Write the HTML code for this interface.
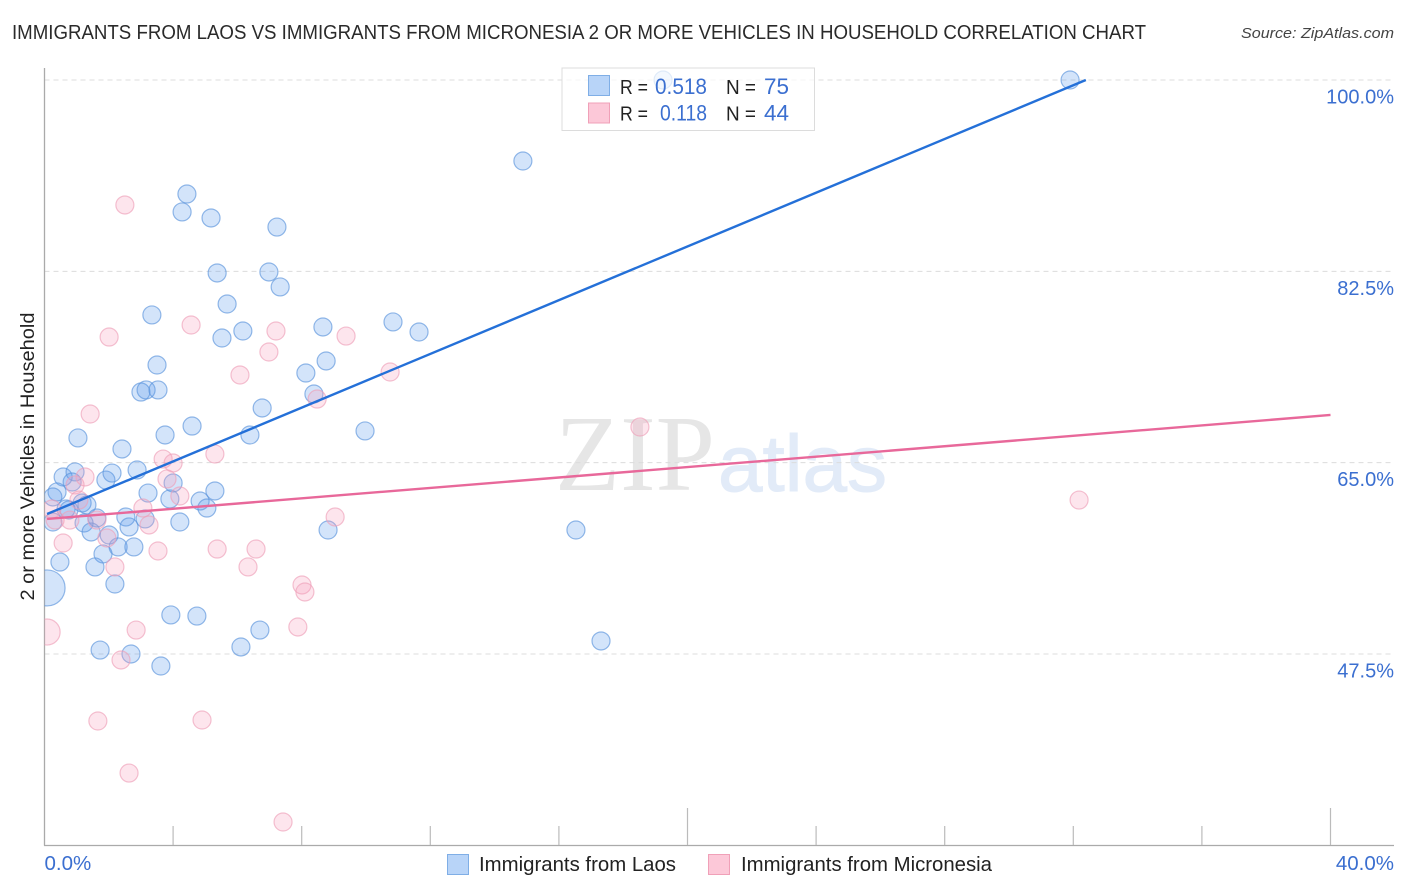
<!DOCTYPE html>
<html>
<head>
<meta charset="utf-8">
<title>Immigrants from Laos vs Immigrants from Micronesia correlation chart</title>
<style>
html,body{margin:0;padding:0;background:#fff;}
svg{display:block;font-family:"Liberation Sans",sans-serif;}
</style>
</head>
<body>
<svg id="chart" xmlns="http://www.w3.org/2000/svg" width="1406" height="892" viewBox="0 0 1406 892">
  <defs>
    <clipPath id="plot-clip"><rect x="44.5" y="60" width="1350" height="785"></rect></clipPath>
  </defs>
  <text x="12" y="39" font-size="20" fill="#2a2a2a" textLength="1134" lengthAdjust="spacingAndGlyphs">IMMIGRANTS FROM LAOS VS IMMIGRANTS FROM MICRONESIA 2 OR MORE VEHICLES IN HOUSEHOLD CORRELATION CHART</text>
  <text x="1394" y="38" font-size="15" font-style="italic" fill="#444" text-anchor="end" textLength="153" lengthAdjust="spacingAndGlyphs">Source: ZipAtlas.com</text>
  <g>
    <text x="555" y="490" font-family="'Liberation Serif',serif" font-size="108" fill="#e6e6e6" textLength="160" lengthAdjust="spacingAndGlyphs">ZIP</text>
    <text x="718" y="491" font-family="'Liberation Sans',sans-serif" font-size="80" fill="#e2ebf8" stroke="#e2ebf8" stroke-width="1" textLength="169" lengthAdjust="spacingAndGlyphs">atlas</text>
  </g>
  <g id="grid"></g>
  <g id="axes"></g>
  <g id="blue-points" clip-path="url(#plot-clip)"></g>
  <g id="pink-points" clip-path="url(#plot-clip)"></g>
  <g id="trends"></g>
  <g id="y-labels"></g>
  <g id="x-labels"></g>
  <text transform="translate(34,456.5) rotate(-90)" font-size="19" fill="#222" text-anchor="middle" textLength="288" lengthAdjust="spacingAndGlyphs">2 or more Vehicles in Household</text>

  <g>
    <rect x="562" y="68" width="252.5" height="62.5" fill="#fff" fill-opacity="0.72" stroke="#dcdcdc" stroke-width="1"></rect>
    <rect x="588.5" y="75.5" width="21" height="20" fill="#b8d4f8" stroke="#7faee6"></rect>
    <rect x="588.5" y="103" width="21" height="20" fill="#fcc8d8" stroke="#f0a0b8"></rect>
    <g font-size="20" fill="#222">
      <text x="620" y="94" textLength="28" lengthAdjust="spacingAndGlyphs">R =</text>
      <text x="620" y="120.5" textLength="28" lengthAdjust="spacingAndGlyphs">R =</text>
      <text x="726" y="94" textLength="30" lengthAdjust="spacingAndGlyphs">N =</text>
      <text x="726" y="120.5" textLength="30" lengthAdjust="spacingAndGlyphs">N =</text>
    </g>
    <g font-size="22" fill="#3b6fd0">
      <text x="655" y="94" textLength="52" lengthAdjust="spacingAndGlyphs">0.518</text>
      <text x="660" y="120.5" textLength="47" lengthAdjust="spacingAndGlyphs">0.118</text>
      <text x="764" y="94" textLength="25" lengthAdjust="spacingAndGlyphs">75</text>
      <text x="764" y="120.5" textLength="25" lengthAdjust="spacingAndGlyphs">44</text>
    </g>
  </g>

  <g>
    <rect x="447.5" y="854.5" width="21" height="20" fill="#b8d4f8" stroke="#7faee6"></rect>
    <text x="479" y="871" font-size="20" fill="#222" textLength="197" lengthAdjust="spacingAndGlyphs">Immigrants from Laos</text>
    <rect x="708.5" y="854.5" width="21" height="20" fill="#fcc8d8" stroke="#f0a0b8"></rect>
    <text x="741" y="871" font-size="20" fill="#222" textLength="251" lengthAdjust="spacingAndGlyphs">Immigrants from Micronesia</text>
  </g>
</svg>
<script>
const blueX = [31.90,14.88,4.43,4.28,5.18,7.23,5.37,6.98,7.33,5.68,3.34,10.84,8.66,11.65,6.17,5.52,3.50,8.76,8.13,3.00,3.16,3.53,8.38,6.77,4.59,3.75,6.39,9.97,1.04,2.41,0.58,0.95,0.86,1.91,2.10,2.88,0.39,0.26,3.22,1.17,1.32,0.67,0.76,1.63,0.26,1.23,1.45,2.53,2.63,3.13,2.01,2.29,2.78,1.82,1.57,0.48,2.19,0.08,3.93,4.74,6.11,6.70,4.00,3.90,4.84,5.05,5.30,4.21,8.82,16.53,17.31,1.73,2.69,3.62,19.24];
const blueY = [100,92.59,89.57,87.93,87.38,86.55,82.35,82.44,81.07,79.51,78.51,77.87,77.41,76.95,77.04,76.40,73.93,74.30,73.20,71.46,71.65,71.65,71.28,70.00,68.35,67.53,67.53,67.90,67.26,66.25,63.69,64.15,63.23,63.41,64.05,64.33,62.32,61.86,62.22,61.31,61.13,60.76,60.67,59.94,59.57,59.48,58.66,60.03,59.12,59.85,58.38,57.29,57.29,56.65,55.46,55.91,53.90,53.54,51.07,50.97,48.14,49.69,63.14,61.68,61.49,60.85,62.41,59.57,58.84,58.84,48.69,47.86,47.50,46.40,100];
const blueWeight = [1,1,1,1,1,1,1,1,1,1,1,1,1,1,1,1,1,1,1,1,1,1,1,1,1,1,1,1,1,1,1,1,1,1,1,1,1,1,1,1,1,1,1,1,1,1,1,1,1,1,1,1,1,1,1,1,1,4,1,1,1,1,1,1,1,1,1,1,1,1,1,1,1,1,1];
const pinkX = [2.50,2.01,4.56,7.20,9.38,6.98,6.08,10.75,8.48,1.42,18.52,5.30,3.69,4.00,1.26,0.95,3.81,4.21,1.07,32.18,3.06,0.23,9.04,0.33,0.79,1.63,3.25,1.94,0.58,3.53,5.37,6.58,6.33,2.19,8.01,8.10,7.88,2.85,0.08,2.38,1.66,4.90,2.63,7.42];
const pinkY = [88.57,76.49,77.59,77.04,76.58,75.12,73.02,73.29,70.82,69.45,68.26,65.79,65.33,64.97,63.69,62.96,63.51,61.95,61.58,61.58,60.85,60.76,60.03,59.75,59.75,59.75,59.30,58.11,57.65,56.92,57.10,57.10,55.46,55.46,53.81,53.17,49.97,49.69,49.51,46.95,41.37,41.46,36.61,32.13];
const pinkWeight = [1,1,1,1,1,1,1,1,1,1,1,1,1,1,1,1,1,1,1,1,1,1,1,1,1,1,1,1,1,1,1,1,1,1,1,1,1,1,2.1,1,1,1,1,1];
const blueTrendX = [0.08,32.39];
const blueTrendY = [60.3,100];
const pinkTrendX = [0.08,40];
const pinkTrendY = [59.85,69.36];
const yTicks = [100,82.5,65,47.5];
const yTickLabels = ["100.0%","82.5%","65.0%","47.5%"];
const xTickValues = [4,8,12,16,20,24,28,32,36,40];
const xMajorTicks = [20,40];
const xEndTicks = [0,40];
const xEndLabels = ["0.0%","40.0%"];

const NS = "http://www.w3.org/2000/svg";
function xScale(v){ return 44.5 + v * 32.15; }
function yScale(v){ return 80 + (100 - v) * 10.933; }
function mk(parent, tag, attrs){
  const el = document.createElementNS(NS, tag);
  for (const k in attrs) el.setAttribute(k, attrs[k]);
  document.getElementById(parent).appendChild(el);
  return el;
}

yTicks.forEach(function(t){
  const g = mk("grid", "line", {x1:44.5, x2:1394, y1:yScale(t), y2:yScale(t), stroke:"#dcdcdc", "stroke-width":1, "stroke-dasharray":"5 4"});
  
  
});

const yAxis = mk("axes", "line", {x1:44.5, x2:44.5, y1:68, y2:845.5, stroke:"#aaa", "stroke-width":1.3});


const xAxis = mk("axes", "line", {x1:44, x2:1394, y1:845.5, y2:845.5, stroke:"#aaa", "stroke-width":1.3});


xTickValues.forEach(function(t){
  const top = xMajorTicks.indexOf(t) >= 0 ? 808 : 826;
  const tick = mk("axes", "line", {x1:xScale(t), x2:xScale(t), y1:top, y2:845, stroke:"#bbb", "stroke-width":1.2});
  
  
});

function drawPoints(group, xs, ys, ws, fill, stroke, name){
  xs.forEach(function(v, i){
    const c = mk(group, "circle", {cx:xScale(v), cy:yScale(ys[i]), r:9 * Math.sqrt(ws[i]), fill:fill, "fill-opacity":0.27, stroke:stroke, "stroke-opacity":0.65, "stroke-width":1.2});
    
    
  });
}
drawPoints("blue-points", blueX, blueY, blueWeight, "#5b9bec", "#5b93dc", "laos-point");
drawPoints("pink-points", pinkX, pinkY, pinkWeight, "#f6a0bc", "#eea0b8", "micronesia-point");

const blueLine = mk("trends", "line", {x1:xScale(blueTrendX[0]), y1:yScale(blueTrendY[0]), x2:xScale(blueTrendX[1]), y2:yScale(blueTrendY[1]), stroke:"#2470d8", "stroke-width":2.4});


const pinkLine = mk("trends", "line", {x1:xScale(pinkTrendX[0]), y1:yScale(pinkTrendY[0]), x2:xScale(pinkTrendX[1]), y2:yScale(pinkTrendY[1]), stroke:"#e8689a", "stroke-width":2.4});



yTicks.forEach(function(t, i){
  const lab = mk("y-labels", "text", {x:1394, y:yScale(t) + 23.5, "font-size":20, fill:"#3b6fd0", "text-anchor":"end"});
  lab.textContent = yTickLabels[i];
  
  
});
xEndTicks.forEach(function(t, i){
  const lab = mk("x-labels", "text", {x: i === 0 ? xScale(t) : 1394, y:870, "font-size":20.5, fill:"#3b6fd0", "text-anchor": i === 0 ? "start" : "end"});
  lab.textContent = xEndLabels[i];
  
  
});
</script>
</body>
</html>
